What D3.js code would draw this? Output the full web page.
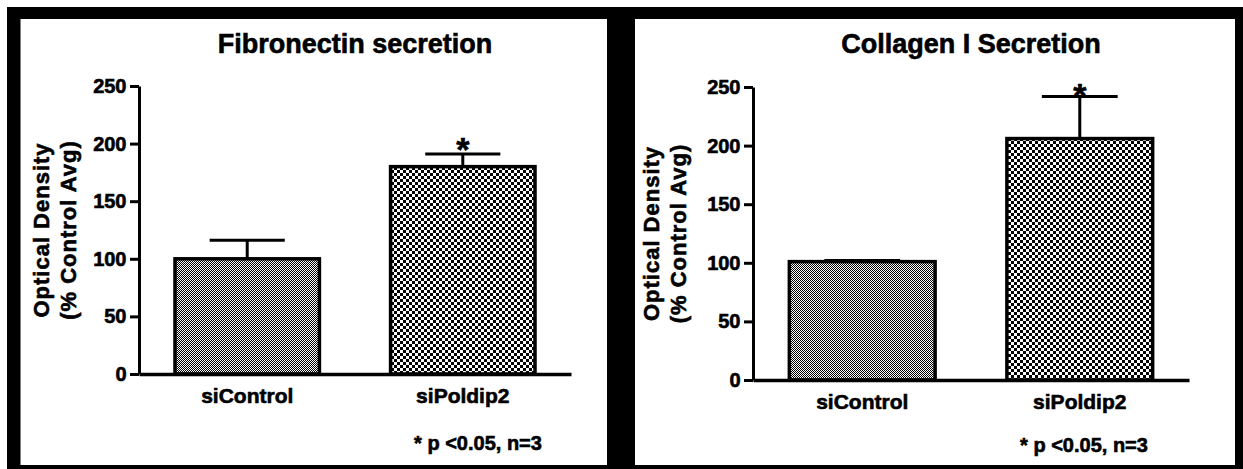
<!DOCTYPE html>
<html>
<head>
<meta charset="utf-8">
<script src="https://cdn.jsdelivr.net/npm/d3@7"></script>
<style>
  body { margin: 0; background: #fff; }
  svg { display: block; }
  text { font-family: "Liberation Sans", Arial, Helvetica, sans-serif; font-weight: bold; fill: #000;
         stroke: #000; stroke-width: 0.6px; }
</style>
</head>
<body>
<div id="container"></div>
<script>
let w = 1243;
let h = 469;

// DATA
let categories = ["siControl", "siPoldip2"];
let yTicks = [0, 50, 100, 150, 200, 250];

let fibronectinMean = [100, 180];
let fibronectinSem = [16, 11];
let fibronectinSig = [false, true];

let collagenMean = [101, 206];
let collagenSem = [1, 36];
let collagenSig = [false, true];

let footnote = "* p <0.05, n=3";
let yLabel1 = "Optical Density";
let yLabel2 = "(% Control Avg)";

// panel layout
let panels = [
  {title: "Fibronectin secretion", mean: fibronectinMean, sem: fibronectinSem, sig: fibronectinSig,
   left: 139, top: 86, width: 432, height: 288, labelX: 90.5, noteX: 478, noteY: 450, starGap: 12},
  {title: "Collagen I Secretion", mean: collagenMean, sem: collagenSem, sig: collagenSig,
   left: 753, top: 87, width: 436, height: 293, labelX: 94.5, noteX: 1084, noteY: 452, starGap: 9}
];

let viz = d3.select("#container").append("svg")
    .attr("width", w)
    .attr("height", h)
    .style("background-color", "#ffffff");

// checker patterns
let defs = viz.append("defs");
function checker(id, cell) {
  let p = defs.append("pattern")
      .attr("id", id)
      .attr("patternUnits", "userSpaceOnUse")
      .attr("width", cell * 2)
      .attr("height", cell * 2);
  p.append("rect").attr("width", cell * 2).attr("height", cell * 2).attr("fill", "#fff");
  p.append("rect").attr("width", cell).attr("height", cell).attr("fill", "#000");
  p.append("rect").attr("x", cell).attr("y", cell).attr("width", cell).attr("height", cell).attr("fill", "#000");
}
checker("fine", 1);
checker("coarse", 3);
let fills = ["url(#fine)", "url(#coarse)"];

// frames
viz.append("rect").attr("x", 7).attr("y", 7).attr("width", w - 7).attr("height", h - 7).attr("fill", "#000");
viz.append("rect").attr("x", 20.5).attr("y", 19).attr("width", 607 - 20.5).attr("height", 465 - 19).attr("fill", "#fff");
viz.append("rect").attr("x", 635).attr("y", 19).attr("width", 1235 - 635).attr("height", 465 - 19).attr("fill", "#fff");

panels.forEach(p => {
  let g = viz.append("g").attr("transform", `translate(${p.left},${p.top})`);

  let x = d3.scaleBand().domain(categories).range([0, p.width])
      .paddingInner(0.33).paddingOuter(0.167);
  let y = d3.scaleLinear().domain([0, 250]).range([p.height, 0]);

  // title
  g.append("text")
      .attr("x", p.width / 2)
      .attr("y", 53 - p.top)
      .attr("text-anchor", "middle")
      .style("font-size", "27px")
      .text(p.title);

  // bars
  categories.forEach((c, i) => {
    g.append("rect")
        .attr("x", x(c))
        .attr("y", y(p.mean[i]))
        .attr("width", x.bandwidth())
        .attr("height", y(0) - y(p.mean[i]))
        .attr("fill", fills[i])
        .attr("stroke", "#000")
        .attr("stroke-width", 3.5);

    let cx = x(c) + x.bandwidth() / 2;
    let top = y(p.mean[i] + p.sem[i]);
    g.append("line")
        .attr("x1", cx).attr("x2", cx)
        .attr("y1", y(p.mean[i])).attr("y2", top)
        .attr("stroke", "#000").attr("stroke-width", 3);
    g.append("line")
        .attr("x1", cx - x.bandwidth() * 0.26).attr("x2", cx + x.bandwidth() * 0.26)
        .attr("y1", top).attr("y2", top)
        .attr("stroke", "#000").attr("stroke-width", 3);

    if (p.sig[i]) {
      // asterisk glyph centre sits starGap px above the cap
      g.append("text")
          .attr("x", cx)
          .attr("y", top - p.starGap + 0.57 * 34)
          .attr("text-anchor", "middle")
          .style("font-size", "34px")
          .text("*");
    }
  });

  // axes
  let yAxis = g.append("g")
      .call(d3.axisLeft(y).tickValues(yTicks).tickSize(9).tickSizeOuter(0).tickPadding(3.5));
  yAxis.selectAll("line, path").attr("stroke", "#000").attr("stroke-width", 3);
  yAxis.selectAll("text").style("font-size", "20px").attr("font-family", null);

  let xAxis = g.append("g")
      .attr("transform", `translate(0,${p.height})`)
      .call(d3.axisBottom(x).tickSize(0).tickSizeOuter(0).tickPadding(14.5));
  xAxis.select("path").attr("stroke", "#000").attr("stroke-width", 3.5);
  xAxis.selectAll("text").style("font-size", "21px").attr("font-family", null);

  // y label
  let lab = g.append("text")
      .attr("transform", `translate(${-p.labelX},${p.height / 2}) rotate(-90)`)
      .attr("text-anchor", "middle")
      .style("font-size", "22px")
      .style("letter-spacing", "1px");
  lab.append("tspan").attr("x", 0).attr("y", 0).text(yLabel1);
  lab.append("tspan").attr("x", 0).attr("y", 27.5).text(yLabel2);

  // footnote
  viz.append("text")
      .attr("x", p.noteX)
      .attr("y", p.noteY)
      .attr("text-anchor", "middle")
      .style("font-size", "20px")
      .text(footnote);
});
</script>
</body>
</html>
